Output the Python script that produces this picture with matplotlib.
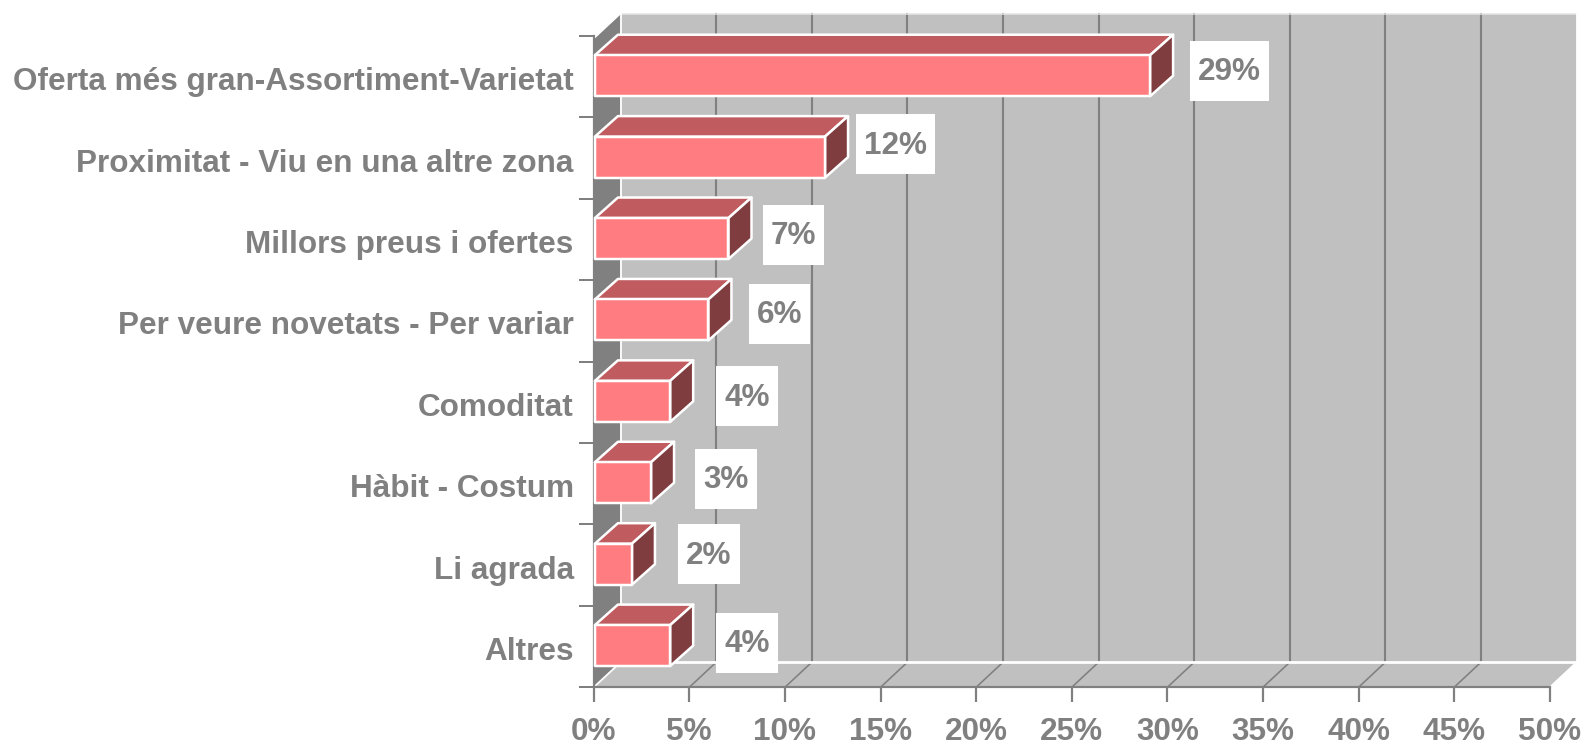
import matplotlib
matplotlib.use("Agg")
import matplotlib.pyplot as plt
from matplotlib.patches import Polygon, Rectangle

categories = ["Oferta més gran-Assortiment-Varietat", "Proximitat - Viu en una altre zona",
              "Millors preus i ofertes", "Per veure novetats - Per variar", "Comoditat",
              "Hàbit - Costum", "Li agrada", "Altres"]
values = [29.1, 12.1, 7.05, 6.0, 4.0, 3.0, 2.0, 4.0]
value_labels = ["29%", "12%", "7%", "6%", "4%", "3%", "2%", "4%"]
x_ticks = [0, 5, 10, 15, 20, 25, 30, 35, 40, 45, 50]
x_tick_labels = [f"{v}%" for v in x_ticks]

# label box placement relative to bar end / bar centre, in pixels
label_dx = [79, 70, 65, 71, 77, 75, 77, 77]
label_dy = [-5, -13, -4, -6, -5, -4, -10, -3]

W, H = 1583, 745
GREY = "#808080"
plt.rcParams["font.family"] = ["Liberation Sans", "DejaVu Sans"]
plt.rcParams["font.weight"] = "bold"
FS = 22.7
PX = 0.72

fig = plt.figure(figsize=(W / 100, H / 100), dpi=100, facecolor="white")
L, R, T, B = 593.7, 1549.7, 36.0, 687.3
ax = fig.add_axes([L / W, 1 - B / H, (R - L) / W, (B - T) / H])
ax.set_xlim(0, 50)
ax.set_ylim(len(categories), 0)
ax.set_facecolor("none")
ux = 50 / (R - L)
uy = len(categories) / (B - T)

# depth of the plot box and of the bars, in data units
DX, DY = 26.8 * ux, 25.0 * uy
bx, by = 23.0 * ux, 20.5 * uy
top_y = (38.5 - T) * uy
back_top = top_y - DY
n = len(categories)


def poly(pts, fc, ec="none", lw=0, z=1):
    ax.add_patch(Polygon(pts, closed=True, facecolor=fc, edgecolor=ec, linewidth=lw,
                         zorder=z, clip_on=False, joinstyle="round"))


# back wall, left wall, floor
poly([(DX, back_top), (50 + DX, back_top), (50 + DX, n - DY), (DX, n - DY)], "#C0C0C0", z=1)
poly([(0, top_y), (DX, back_top), (DX, n - DY), (0, n)], GREY, z=1.2)
poly([(0, n), (50, n), (50 + DX, n - DY), (DX, n - DY)], "#C0C0C0", z=1.1)
# grid lines
for v in x_ticks[1:-1]:
    ax.plot([v + DX, v + DX], [back_top, n - DY], color=GREY, lw=2.1 * PX, zorder=1.3, clip_on=False)
    ax.plot([v, v + DX], [n, n - DY], color=GREY, lw=1.6 * PX, zorder=1.3, clip_on=False)
# white outlines of the box
ax.plot([DX, 50 + DX], [back_top, back_top], color="#E4E4E4", lw=1.5 * PX, zorder=1.4, clip_on=False)
ax.plot([DX, 50 + DX, 50 + DX], [n - DY, n - DY, back_top], color="white", lw=2.8 * PX, zorder=1.4, clip_on=False)
ax.plot([DX, DX], [back_top, n - DY], color="white", lw=1.8 * PX, zorder=1.4, clip_on=False)
ax.plot([0, DX], [n, n - DY], color="white", lw=1.8 * PX, zorder=1.4, clip_on=False)
ax.plot([0, DX], [top_y, back_top], color="white", lw=1.6 * PX, zorder=1.4, clip_on=False)
ax.plot([50, 50 + DX], [n, n - DY], color="white", lw=1.6 * PX, zorder=1.4, clip_on=False)

# bars
h = 41.0 * uy
shift = -1.0 * uy
x0 = 1.2 * ux
for i, v in enumerate(values):
    t = i + 0.5 + shift - h / 2
    b = t + h
    edge = dict(ec="white", lw=2.5 * PX, z=2)
    poly([(x0, t), (v, t), (v + bx, t - by), (x0 + bx, t - by)], "#C05C5F", **edge)
    poly([(v, t), (v + bx, t - by), (v + bx, b - by), (v, b)], "#803D40", **edge)
    poly([(x0, t), (v, t), (v, b), (x0, b)], "#FF7C80", **edge)

# value labels with white boxes
fig.canvas.draw()
rend = fig.canvas.get_renderer()
for i, (v, s) in enumerate(zip(values, value_labels)):
    cx = v + label_dx[i] * ux
    cy = i + 0.5 + shift + label_dy[i] * uy
    txt = ax.text(cx, cy + 1.5 * uy, s, ha="center", va="center", color=GREY, fontsize=FS, zorder=5.1, clip_on=False)
    w_px = txt.get_window_extent(rend).width + 16
    ax.add_patch(Rectangle((cx - w_px / 2 * ux, cy - 30 * uy), w_px * ux, 60 * uy, facecolor="white",
                           edgecolor="none", zorder=5, clip_on=False))

# axes, ticks and tick labels
for s in ("top", "right"):
    ax.spines[s].set_visible(False)
for s in ("left", "bottom"):
    ax.spines[s].set_color(GREY)
    ax.spines[s].set_linewidth(2.2 * PX)
    ax.spines[s].set_zorder(1.5)
ax.set_xticks(x_ticks)
ax.set_xticklabels(x_tick_labels, fontsize=FS, color=GREY, fontweight="bold")
ax.tick_params(axis="x", length=15 * PX, width=2.2 * PX, color=GREY, pad=15 * PX)
ax.set_yticks(list(range(n + 1)))
ax.set_yticklabels([])
ax.tick_params(axis="y", which="major", length=15 * PX, width=2.0 * PX, color=GREY)
ax.set_yticks([i + 0.5 + 2.0 * uy for i in range(n)], minor=True)
ax.set_yticklabels(categories, minor=True, fontsize=FS, color=GREY, fontweight="bold")
ax.tick_params(axis="y", which="minor", length=0, pad=20 * PX)

fig.savefig("out.png", dpi=100)
